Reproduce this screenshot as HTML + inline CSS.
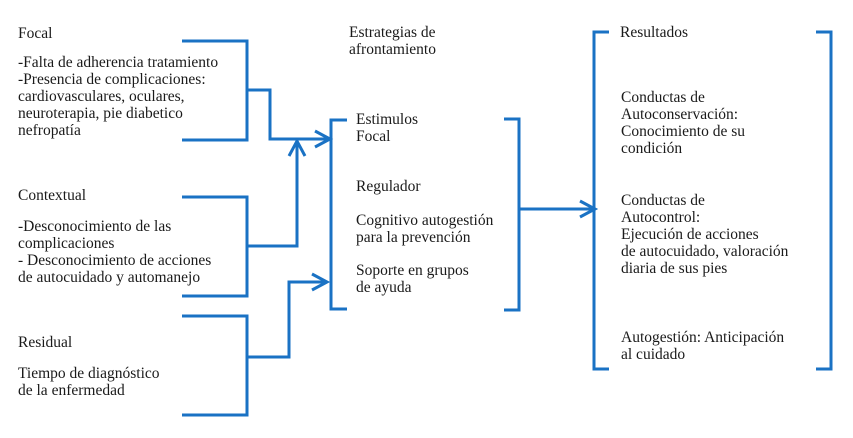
<!DOCTYPE html>
<html><head><meta charset="utf-8"><style>
html,body{margin:0;padding:0;background:#fff;}
svg{display:block;}
svg text{font-family:"Liberation Serif","Times New Roman","DejaVu Serif",serif;font-size:15.5px;fill:#1a1a1a;}
</style></head><body>
<svg width="853" height="438" viewBox="0 0 853 438" xmlns="http://www.w3.org/2000/svg">
<g fill="none" stroke="#1a72c4" stroke-width="3" stroke-linejoin="miter">
<polyline points="182,41 247,41 247,140 182,140"/>
<polyline points="247,90 270,90 270,139 330,139"/>
<polyline points="315,131 330,139 315,147"/>
<polyline points="182,197 247,197 247,296 182,296"/>
<polyline points="247,246 297,246 297,141"/>
<polyline points="289,156 297,141 305,156"/>
<polyline points="182,316 247,316 247,415 182,415"/>
<polyline points="247,357 289,357 289,282 327,282"/>
<polyline points="312,274 327,282 312,290"/>
<polyline points="347,120 331,120 331,309 347,309"/>
<polyline points="504,119 519,119 519,310 504,310"/>
<polyline points="519,209 595,209"/>
<polyline points="580,201 595,209 580,217"/>
<polyline points="609,32 594,32 594,369 609,369"/>
<polyline points="816,32 831,32 831,369 816,369"/>
</g>
<g font-family="Liberation Serif, serif" font-size="15.5">
<text x="18" y="38">Focal</text>
<text x="18" y="67">-Falta de adherencia tratamiento</text>
<text x="18" y="84">-Presencia de complicaciones:</text>
<text x="18" y="101">cardiovasculares, oculares,</text>
<text x="18" y="118">neuroterapia, pie diabetico</text>
<text x="18" y="135">nefropatía</text>
<text x="18" y="200">Contextual</text>
<text x="18" y="231">-Desconocimiento de las</text>
<text x="18" y="248">complicaciones</text>
<text x="18" y="265">- Desconocimiento de acciones</text>
<text x="18" y="282">de autocuidado y automanejo</text>
<text x="18" y="347">Residual</text>
<text x="18" y="378">Tiempo de diagnóstico</text>
<text x="18" y="395">de la enfermedad</text>
<text x="349" y="37">Estrategias de</text>
<text x="349" y="54">afrontamiento</text>
<text x="356" y="124">Estimulos</text>
<text x="356" y="141">Focal</text>
<text x="356" y="191">Regulador</text>
<text x="356" y="225">Cognitivo autogestión</text>
<text x="356" y="242">para la prevención</text>
<text x="356" y="275">Soporte en grupos</text>
<text x="356" y="292">de ayuda</text>
<text x="620" y="37">Resultados</text>
<text x="621" y="102">Conductas de</text>
<text x="621" y="119">Autoconservación:</text>
<text x="621" y="136">Conocimiento de su</text>
<text x="621" y="153">condición</text>
<text x="621" y="205">Conductas de</text>
<text x="621" y="222">Autocontrol:</text>
<text x="621" y="239">Ejecución de acciones</text>
<text x="621" y="256">de autocuidado, valoración</text>
<text x="621" y="273">diaria de sus pies</text>
<text x="621" y="342">Autogestión: Anticipación</text>
<text x="621" y="359">al cuidado</text>
</g>
</svg>
</body></html>
